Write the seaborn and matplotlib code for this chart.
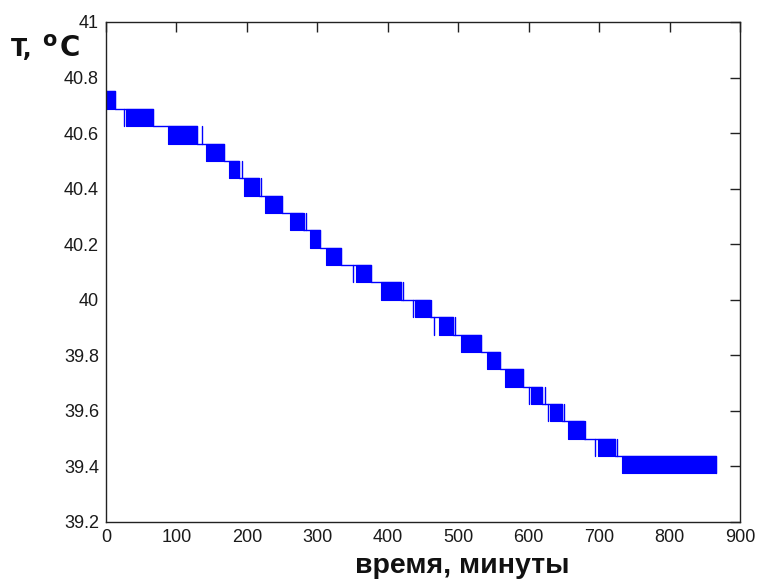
import matplotlib
matplotlib.use("Agg")
import matplotlib.pyplot as plt
import seaborn as sns
import pandas as pd
from matplotlib.ticker import FuncFormatter

# --- data -----------------------------------------------------------------
# Each block: the sensor reading toggles rapidly between two adjacent
# quantisation levels (upper / lower) between start and end (minutes).
block_start = [0, 28, 88, 142, 174, 196, 226, 261, 290, 313, 355, 390,
               439, 473, 504, 541, 566, 603, 630, 656, 699, 732]
block_end = [13, 67, 129, 167, 189, 217, 250, 279, 304, 333, 376, 419,
             460, 493, 532, 559, 592, 619, 647, 678, 723, 866]
block_upper = [40.75, 40.6875, 40.625, 40.5625, 40.5, 40.4375, 40.375,
               40.3125, 40.25, 40.1875, 40.125, 40.0625, 40.0, 39.9375,
               39.875, 39.8125, 39.75, 39.6875, 39.625, 39.5625, 39.5,
               39.4375]
block_lower = [40.6875, 40.625, 40.5625, 40.5, 40.4375, 40.375, 40.3125,
               40.25, 40.1875, 40.125, 40.0625, 40.0, 39.9375, 39.875,
               39.8125, 39.75, 39.6875, 39.625, 39.5625, 39.5, 39.4375,
               39.375]
# isolated single toggles (time in minutes, block index)
spike_time = [25.5, 136.7, 192.6, 220, 281, 284.5, 351, 422, 435.4, 462,
              465.6, 496, 600.5, 622.5, 627.5, 650, 680, 694, 725]
spike_block = [1, 2, 4, 5, 7, 7, 10, 11, 12, 12, 13, 13, 17, 17, 18, 18,
               19, 20, 20]

x_ticks = [0, 100, 200, 300, 400, 500, 600, 700, 800, 900]
y_ticks = [39.2, 39.4, 39.6, 39.8, 40.0, 40.2, 40.4, 40.6, 40.8, 41.0]
x_label = "время, минуты"

# --- style -----------------------------------------------------------------
sns.set_style("white")
plt.rcParams["font.family"] = ["Liberation Sans", "DejaVu Sans"]

W, H = 757, 581
fig = plt.figure(figsize=(W / 100, H / 100), dpi=100)
ax = fig.add_axes([106 / W, (H - 522) / H, 634 / W, 500 / H])

BLUE = "#0000ff"

# staircase path joining the blocks
px, py = [], []
for s, e, up, lo in zip(block_start, block_end, block_upper, block_lower):
    px += [s, e, e]
    py += [up, up, lo]
path = pd.DataFrame({"t": px, "T": py})
sns.lineplot(data=path, x="t", y="T", sort=False, estimator=None,
             color=BLUE, lw=1.0, ax=ax)

# filled oscillation blocks
for s, e, up, lo in zip(block_start, block_end, block_upper, block_lower):
    ax.fill_between([s, e], lo, up, color=BLUE, lw=0.8, edgecolor=BLUE)

# single toggles
for t, b in zip(spike_time, spike_block):
    ax.plot([t, t], [block_lower[b], block_upper[b]], color=BLUE, lw=1.0)

ax.set_xlim(0, 900)
ax.set_ylim(39.2, 41)
ax.set_xticks(x_ticks)
ax.set_yticks(y_ticks)
ax.yaxis.set_major_formatter(FuncFormatter(lambda v, p: f"{v:g}"))
ax.tick_params(direction="in", length=7, width=1, color="#222222",
               top=True, right=True, labelsize=13, labelcolor="#1a1a1a",
               pad=5)
for sp in ax.spines.values():
    sp.set_visible(True)
    sp.set_color("#222222")
    sp.set_linewidth(1.0)

ax.set_xlabel("")
ax.set_ylabel("")
ax.grid(False)

# x label (offset to the right as in the reference)
fig.text(462 / W, 1 - 566 / H, x_label, ha="center", va="center",
         fontsize=20.5, fontweight="bold", color="#111111")

# y label "T, °C" built from pieces
lab_font = ["DejaVu Sans"]
fig.text(11 / W, 1 - 56 / H, "T,", ha="left", va="baseline", family=lab_font,
         fontsize=17, fontweight="bold", color="#111111")
fig.text(42 / W, 1 - 46.5 / H, "o", ha="left", va="baseline", family=lab_font,
         fontsize=15, fontweight="bold", color="#111111")
fig.text(60 / W, 1 - 56.5 / H, "C", ha="left", va="baseline", family=lab_font,
         fontsize=20, fontweight="bold", color="#111111")

fig.savefig("out.png", dpi=100, facecolor="white")
